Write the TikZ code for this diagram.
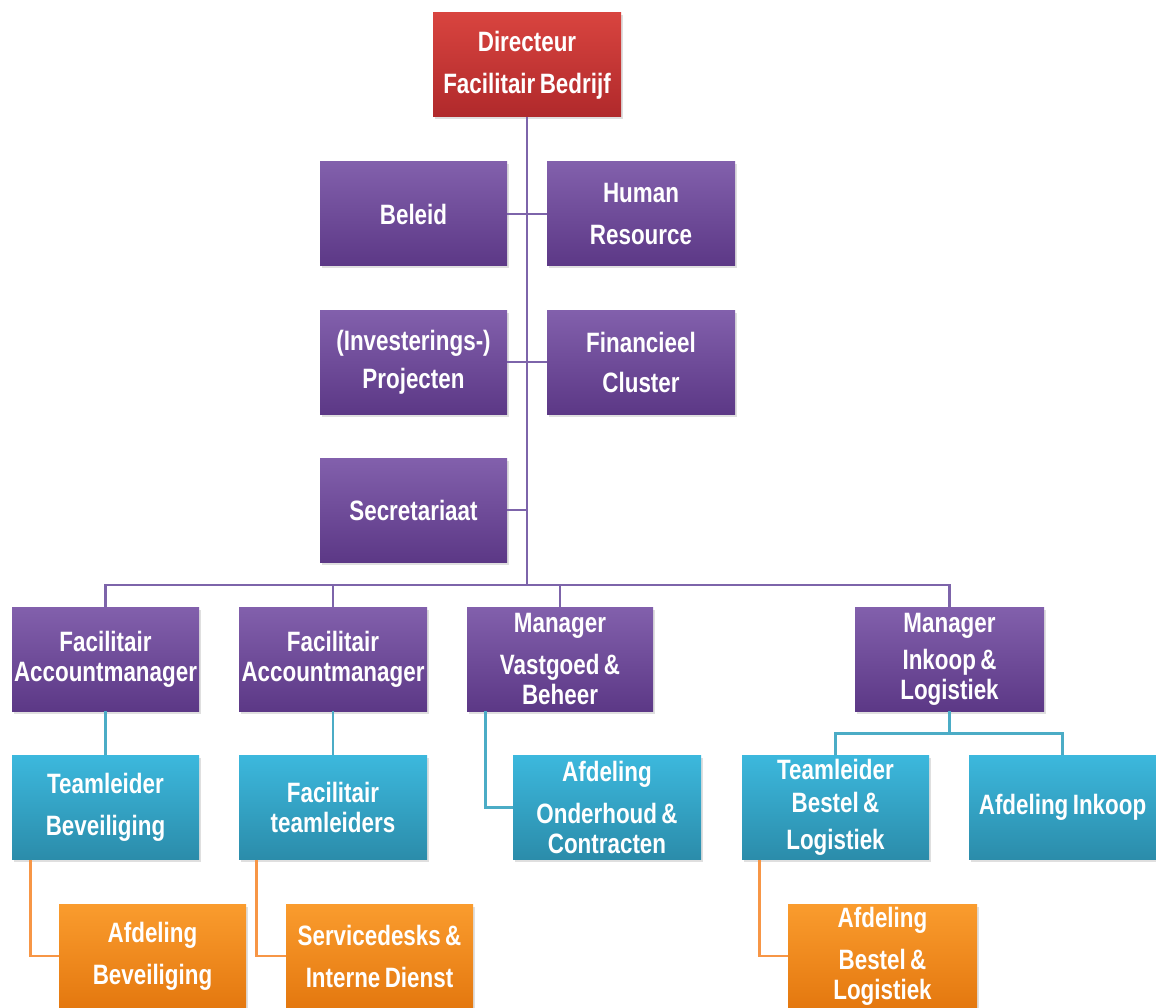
\documentclass[tikz,border=0pt]{standalone}
\usepackage{fontspec}
\newfontfamily\boxfont{Liberation Sans}[FakeStretch=0.8, WordSpace=0.7]
\usetikzlibrary{shadows,calc}
\definecolor{redT}{HTML}{D8443F}
\definecolor{redB}{HTML}{B0292B}
\definecolor{purT}{HTML}{8260AC}
\definecolor{purB}{HTML}{5C3886}
\definecolor{bluT}{HTML}{3CB8DD}
\definecolor{bluB}{HTML}{2B8CAA}
\definecolor{oraT}{HTML}{FA9C2E}
\definecolor{oraB}{HTML}{E4780F}
\definecolor{purL}{HTML}{7D64AA}
\definecolor{bluL}{HTML}{4BACC6}
\definecolor{oraL}{HTML}{F79646}
\tikzset{
  box/.style={minimum width=188pt, minimum height=104pt, inner sep=0pt,
    align=center, text=white,
    font=\boxfont\bfseries\fontsize{28}{30}\selectfont,
    drop shadow={opacity=0.25, shadow xshift=1.5pt, shadow yshift=-2.5pt}},
  redbox/.style={box, top color=redT, bottom color=redB},
  purbox/.style={box, top color=purT, bottom color=purB},
  blubox/.style={box, top color=bluT, bottom color=bluB},
  orabox/.style={box, top color=oraT, bottom color=oraB},
  purline/.style={draw=purL, line width=2.8pt},
  bluline/.style={draw=bluL, line width=2.8pt},
  oraline/.style={draw=oraL, line width=2.8pt},
}
\begin{document}
\begin{tikzpicture}[x=1pt, y=-1pt]
\useasboundingbox (0,0) rectangle (1156,1008);
\fill[white] (0,0) rectangle (1156,1008);
\coordinate (bus) at (527,585);
% nodes
\node[redbox] (dir) at (527,65) {Directeur\\[12pt]Facilitair Bedrijf};
\node[purbox, minimum width=187pt] (beleid) at (413.5,214) {Beleid};
\node[purbox] (hr) at (641,214) {Human\\[12pt]Resource};
\node[purbox, minimum width=187pt] (inv) at (413.5,362) {(Investerings-)\\[8pt]Projecten};
\node[purbox] (fin) at (641,362) {Financieel\\[10pt]Cluster};
\node[purbox, minimum width=187pt] (sec) at (413.5,510) {Secretariaat};
\node[purbox, minimum width=187pt] (fa1) at (105.5,659) {Facilitair\\Accountmanager};
\node[purbox] (fa2) at (333,659) {Facilitair\\Accountmanager};
\node[purbox, minimum width=186pt] (mv) at (560,659) {Manager\\[12pt]Vastgoed \&\\Beheer};
\node[purbox, minimum width=189pt] (mi) at (949.5,659) {Manager\\[7pt]Inkoop \&\\Logistiek};
\node[blubox, minimum width=187pt] (tb) at (105.5,807.5) {Teamleider\\[12pt]Beveiliging};
\node[blubox] (ft) at (333,807.5) {Facilitair\\teamleiders};
\node[blubox] (ao) at (607,807.5) {Afdeling\\[12pt]Onderhoud \&\\Contracten};
\node[blubox, minimum width=187pt] (tbl) at (835.5,807.5) {Teamleider\\[3pt]Bestel \&\\[7pt]Logistiek};
\node[blubox, minimum width=187pt] (ai) at (1062.5,807.5) {Afdeling Inkoop};
\node[orabox, minimum width=187pt] (ab) at (152.5,956) {Afdeling\\[12pt]Beveiliging};
\node[orabox, minimum width=187pt] (sd) at (379.5,956) {Servicedesks \&\\[12pt]Interne Dienst};
\node[orabox, minimum width=189pt] (abl) at (882.5,956) {Afdeling\\[12pt]Bestel \&\\Logistiek};
% purple connectors
\draw[purline] (dir.south) -- (bus);
\draw[purline] (beleid.east) -- (hr.west);
\draw[purline] (inv.east) -- (fin.west);
\draw[purline] (sec.east) -- (sec.east -| bus);
\draw[purline] (fa1.north) -- (fa1.north |- bus) -- (mi.north |- bus) -- (mi.north);
\draw[purline] (fa2.north) -- (fa2.north |- bus);
\draw[purline] (mv.north) -- (mv.north |- bus);
% blue connectors
\draw[bluline] (fa1.south) -- (tb.north);
\draw[bluline] (fa2.south) -- (ft.north);
\draw[bluline] (mv.south west) ++(19,0) |- (ao.west);
\draw[bluline] (mi.south) -- ($(mi.south)+(0,22)$);
\draw[bluline] (tbl.north) |- ($(mi.south)+(0,22)$) -| (ai.north);
% orange connectors
\draw[oraline] (tb.south west) ++(19,0) |- (ab.west);
\draw[oraline] (ft.south west) ++(18,0) |- (sd.west);
\draw[oraline] (tbl.south west) ++(18,0) |- (abl.west);
\end{tikzpicture}
\end{document}
